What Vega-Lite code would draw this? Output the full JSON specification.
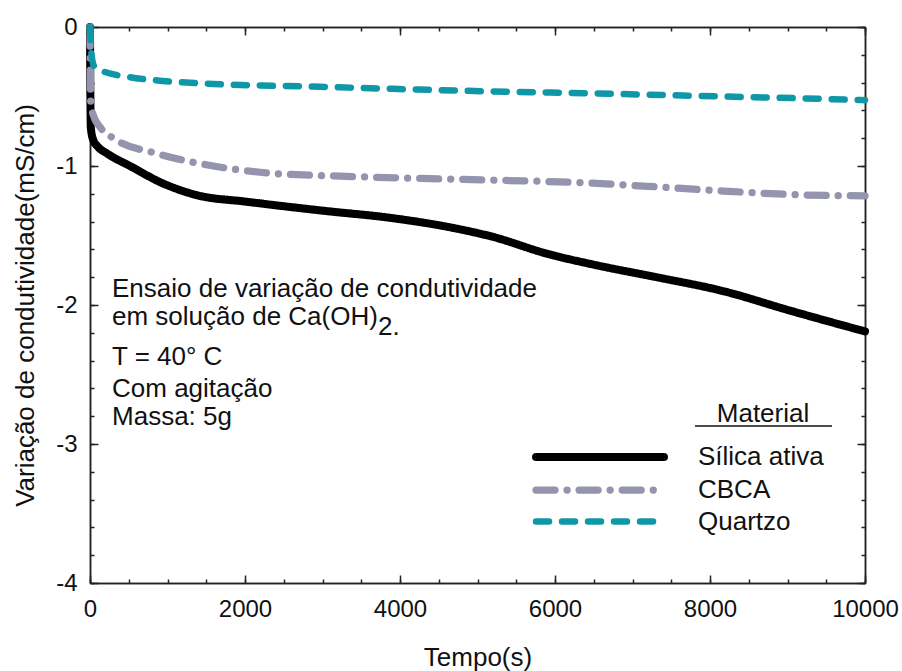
{
  "$schema": "https://vega.github.io/schema/vega-lite/v6.json",
  "width": 775,
  "height": 556,
  "autosize": {"type": "none"},
  "padding": {"left": 90, "top": 27, "right": 37, "bottom": 88},
  "background": "white",
  "config": {
    "view": {"stroke": null},
    "font": "Liberation Sans",
    "axis": {
      "grid": false,
      "domainColor": "#222222",
      "domainWidth": 1.5,
      "tickColor": "#222222",
      "tickWidth": 1.5,
      "labelFont": "Liberation Sans",
      "labelFontSize": 24,
      "labelColor": "#111111",
      "labelFlush": false,
      "labelOverlap": false,
      "titleFont": "Liberation Sans",
      "titleFontSize": 26,
      "titleFontWeight": "normal",
      "titleColor": "#111111"
    }
  },
  "datasets": {
    "series": [
      {"Material": "Sílica ativa", "t": 0, "v": 0},
      {"Material": "Sílica ativa", "t": 5, "v": -0.5},
      {"Material": "Sílica ativa", "t": 10, "v": -0.72},
      {"Material": "Sílica ativa", "t": 40, "v": -0.81},
      {"Material": "Sílica ativa", "t": 100, "v": -0.86},
      {"Material": "Sílica ativa", "t": 220, "v": -0.91},
      {"Material": "Sílica ativa", "t": 516, "v": -1.0},
      {"Material": "Sílica ativa", "t": 940, "v": -1.125},
      {"Material": "Sílica ativa", "t": 1380, "v": -1.21},
      {"Material": "Sílica ativa", "t": 2020, "v": -1.257},
      {"Material": "Sílica ativa", "t": 3060, "v": -1.325},
      {"Material": "Sílica ativa", "t": 3830, "v": -1.37},
      {"Material": "Sílica ativa", "t": 4690, "v": -1.446},
      {"Material": "Sílica ativa", "t": 5200, "v": -1.51},
      {"Material": "Sílica ativa", "t": 5890, "v": -1.63},
      {"Material": "Sílica ativa", "t": 6500, "v": -1.71},
      {"Material": "Sílica ativa", "t": 7310, "v": -1.8},
      {"Material": "Sílica ativa", "t": 8170, "v": -1.9},
      {"Material": "Sílica ativa", "t": 9030, "v": -2.04},
      {"Material": "Sílica ativa", "t": 10000, "v": -2.19},
      {"Material": "CBCA", "t": 0, "v": 0},
      {"Material": "CBCA", "t": 10, "v": -0.55},
      {"Material": "CBCA", "t": 40, "v": -0.63},
      {"Material": "CBCA", "t": 130, "v": -0.72},
      {"Material": "CBCA", "t": 300, "v": -0.8},
      {"Material": "CBCA", "t": 860, "v": -0.91},
      {"Material": "CBCA", "t": 1590, "v": -1.0},
      {"Material": "CBCA", "t": 2280, "v": -1.05},
      {"Material": "CBCA", "t": 3060, "v": -1.07},
      {"Material": "CBCA", "t": 4770, "v": -1.096},
      {"Material": "CBCA", "t": 6540, "v": -1.125},
      {"Material": "CBCA", "t": 7310, "v": -1.15},
      {"Material": "CBCA", "t": 8170, "v": -1.18},
      {"Material": "CBCA", "t": 9030, "v": -1.205},
      {"Material": "CBCA", "t": 10000, "v": -1.215},
      {"Material": "Quartzo", "t": 0, "v": 0},
      {"Material": "Quartzo", "t": 20, "v": -0.2},
      {"Material": "Quartzo", "t": 60, "v": -0.29},
      {"Material": "Quartzo", "t": 130, "v": -0.31},
      {"Material": "Quartzo", "t": 500, "v": -0.36},
      {"Material": "Quartzo", "t": 900, "v": -0.386},
      {"Material": "Quartzo", "t": 1590, "v": -0.41},
      {"Material": "Quartzo", "t": 2970, "v": -0.43},
      {"Material": "Quartzo", "t": 4770, "v": -0.458},
      {"Material": "Quartzo", "t": 6450, "v": -0.477},
      {"Material": "Quartzo", "t": 8170, "v": -0.5},
      {"Material": "Quartzo", "t": 9900, "v": -0.525},
      {"Material": "Quartzo", "t": 10000, "v": -0.527}
    ],
    "notes": [
      {"t": 284, "v": -1.942, "label": "Ensaio de variação de condutividade"},
      {"t": 284, "v": -2.144, "label": "em solução de Ca(OH)"},
      {"t": 3716, "v": -2.216, "label": "2."},
      {"t": 284, "v": -2.432, "label": "T = 40° C"},
      {"t": 284, "v": -2.662, "label": "Com agitação"},
      {"t": 284, "v": -2.863, "label": "Massa: 5g"}
    ],
    "heading": [{"t": 8684, "v": -2.842, "label": "Material"}],
    "underline": [{"t": 7806, "t2": 9574, "v": -2.871}]
  },
  "resolve": {"axis": {"x": "independent", "y": "independent"}},
  "layer": [
    {
      "data": {"name": "series"},
      "mark": {"type": "line", "strokeCap": "round", "strokeJoin": "round", "interpolate": "monotone"},
      "encoding": {
        "x": {
          "field": "t", "type": "quantitative",
          "scale": {"domain": [0, 10000], "nice": false, "zero": false},
          "axis": {
            "orient": "bottom",
            "values": [0, 2000, 4000, 6000, 8000, 10000],
            "tickSize": -8,
            "labelPadding": 22,
            "labelExpr": "'' + datum.value",
            "title": "Tempo(s)",
            "titleY": 82,
            "titleBaseline": "alphabetic"
          }
        },
        "y": {
          "field": "v", "type": "quantitative",
          "scale": {"domain": [-4, 0], "nice": false, "zero": false},
          "axis": {
            "orient": "left",
            "values": [0, -1, -2, -3, -4],
            "tickSize": -8,
            "labelPadding": 21,
            "labelExpr": "'' + datum.value",
            "title": "Variação de condutividade(mS/cm)",
            "titleAngle": 270,
            "titleX": -57,
            "titleY": 278,
            "titleAlign": "center",
            "titleBaseline": "alphabetic"
          }
        },
        "color": {
          "field": "Material", "type": "nominal",
          "scale": {"domain": ["Sílica ativa", "CBCA", "Quartzo"], "range": ["#000000", "#9494AE", "#0E97A7"]},
          "legend": {
            "title": null, "orient": "none", "legendX": 493, "legendY": 413,
            "symbolType": "M-5,0H5", "symbolSize": 655, "symbolStrokeWidth": 7,
            "labelFont": "Liberation Sans", "labelFontSize": 26, "labelColor": "#111111",
            "labelOffset": 81, "rowPadding": 0.5, "padding": 0,
            "encode": {"symbols": {"update": {"strokeCap": {"value": "round"}}}}
          }
        },
        "strokeDash": {
          "field": "Material", "type": "nominal",
          "scale": {"domain": ["Sílica ativa", "CBCA", "Quartzo"], "range": [[1, 0], [19, 12, 0.1, 12], [13, 13]]},
          "legend": {
            "title": null, "orient": "none", "legendX": 493, "legendY": 413,
            "symbolType": "M-5,0H5", "symbolSize": 655, "symbolStrokeWidth": 7,
            "labelFont": "Liberation Sans", "labelFontSize": 26, "labelColor": "#111111",
            "labelOffset": 81, "rowPadding": 0.5, "padding": 0,
            "encode": {"symbols": {"update": {"strokeCap": {"value": "round"}}}}
          }
        },
        "strokeWidth": {
          "field": "Material", "type": "nominal",
          "scale": {"domain": ["Sílica ativa", "CBCA", "Quartzo"], "range": [8, 6.5, 7]},
          "legend": null
        }
      }
    },
    {
      "data": {"name": "notes"},
      "mark": {"type": "text", "align": "left", "baseline": "alphabetic", "fontSize": 26, "font": "Liberation Sans", "color": "#111111"},
      "encoding": {
        "x": {
          "field": "t", "type": "quantitative",
          "scale": {"domain": [0, 10000], "nice": false, "zero": false},
          "axis": {
            "orient": "bottom",
            "values": [0, 500, 1000, 1500, 2000, 2500, 3000, 3500, 4000, 4500, 5000, 5500, 6000, 6500, 7000, 7500, 8000, 8500, 9000, 9500, 10000],
            "tickSize": -4, "labels": false, "title": null
          }
        },
        "y": {
          "field": "v", "type": "quantitative",
          "scale": {"domain": [-4, 0], "nice": false, "zero": false},
          "axis": {
            "orient": "left",
            "values": [0, -0.2, -0.4, -0.6, -0.8, -1, -1.2, -1.4, -1.6, -1.8, -2, -2.2, -2.4, -2.6, -2.8, -3, -3.2, -3.4, -3.6, -3.8, -4],
            "tickSize": -4, "labels": false, "title": null
          }
        },
        "text": {"field": "label", "type": "nominal"}
      }
    },
    {
      "data": {"name": "heading"},
      "mark": {"type": "text", "align": "center", "baseline": "alphabetic", "fontSize": 26, "font": "Liberation Sans", "color": "#111111"},
      "encoding": {
        "x": {
          "field": "t", "type": "quantitative",
          "scale": {"domain": [0, 10000], "nice": false, "zero": false},
          "axis": {
            "orient": "top",
            "values": [0, 2000, 4000, 6000, 8000, 10000],
            "tickSize": -8, "labels": false, "title": null
          }
        },
        "y": {
          "field": "v", "type": "quantitative",
          "scale": {"domain": [-4, 0], "nice": false, "zero": false},
          "axis": {
            "orient": "right",
            "values": [0, -1, -2, -3, -4],
            "tickSize": -8, "labels": false, "title": null
          }
        },
        "text": {"field": "label", "type": "nominal"}
      }
    },
    {
      "data": {"name": "underline"},
      "mark": {"type": "rule", "strokeWidth": 1.5, "color": "#111111"},
      "encoding": {
        "x": {
          "field": "t", "type": "quantitative",
          "scale": {"domain": [0, 10000], "nice": false, "zero": false},
          "axis": {
            "orient": "top",
            "values": [0, 500, 1000, 1500, 2000, 2500, 3000, 3500, 4000, 4500, 5000, 5500, 6000, 6500, 7000, 7500, 8000, 8500, 9000, 9500, 10000],
            "tickSize": -4, "labels": false, "title": null
          }
        },
        "x2": {"field": "t2"},
        "y": {
          "field": "v", "type": "quantitative",
          "scale": {"domain": [-4, 0], "nice": false, "zero": false},
          "axis": {
            "orient": "right",
            "values": [0, -0.2, -0.4, -0.6, -0.8, -1, -1.2, -1.4, -1.6, -1.8, -2, -2.2, -2.4, -2.6, -2.8, -3, -3.2, -3.4, -3.6, -3.8, -4],
            "tickSize": -4, "labels": false, "title": null
          }
        }
      }
    }
  ]
}
